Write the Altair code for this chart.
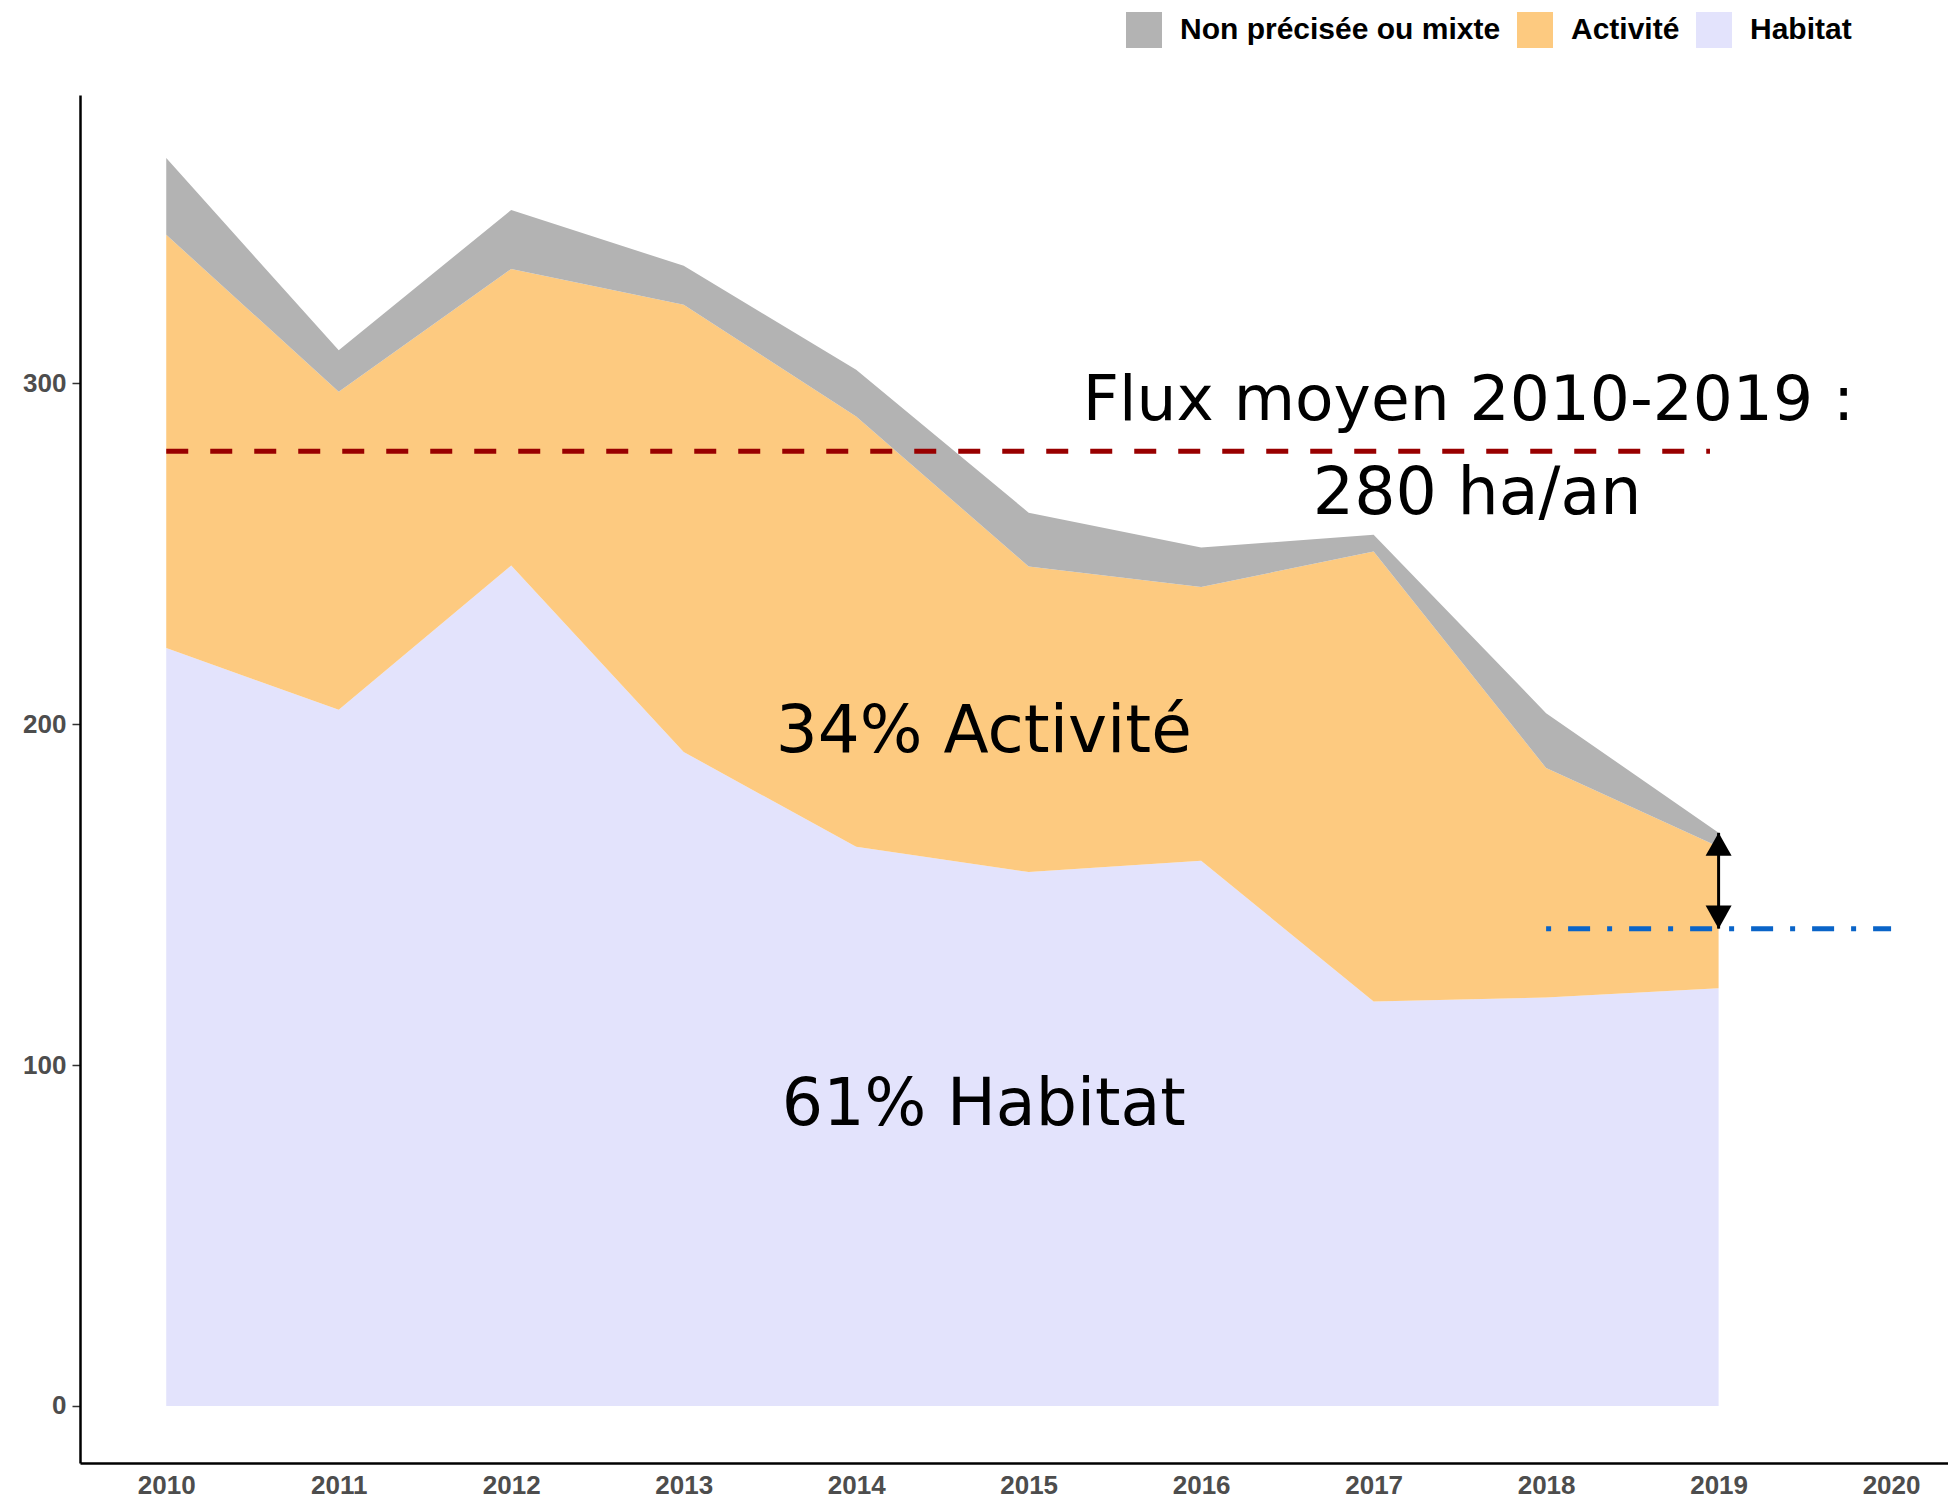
import altair as alt
import pandas as pd

# ---- data ----
years = [2010, 2011, 2012, 2013, 2014, 2015, 2016, 2017, 2018, 2019]
habitat = [222.3, 204.2, 246.5, 191.8, 164.0, 156.6, 159.9, 118.6, 119.8, 122.5]
activite = [121.2, 93.3, 87.0, 131.2, 126.2, 89.6, 80.3, 132.0, 67.3, 41.5]
non_precisee = [22.5, 12.1, 17.3, 11.4, 13.7, 15.8, 11.6, 4.9, 16.1, 4.1]

categories = ["Non précisée ou mixte", "Activité", "Habitat"]
colors = ["#B3B3B3", "#FDCA80", "#E3E3FC"]

x_ticks = list(range(2010, 2021))
y_ticks = [0, 100, 200, 300]

mean_flux = 280
half_flux = 140
mean_span = [2010, 2018.95]
half_span = [2018, 2020]
arrow_year = 2019
arrow_top = 168.1

labels_text = ["Flux moyen 2010-2019 :", "280 ha/an", "34% Activité", "61% Habitat"]
labels_x = [2017.55, 2017.6, 2014.74, 2014.74]
labels_y = [289.2, 261.6, 191.8, 82.4]
labels_size = [63, 65, 66, 65]

# ---- tables ----
rows = []
for i, yr in enumerate(years):
    rows.append({"annee": yr, "cat": "Habitat", "val": habitat[i], "ord": 0})
    rows.append({"annee": yr, "cat": "Activité", "val": activite[i], "ord": 1})
    rows.append({"annee": yr, "cat": "Non précisée ou mixte", "val": non_precisee[i], "ord": 2})
df = pd.DataFrame(rows)

xs = alt.Scale(domain=[2009.5, 2020.33], nice=False, zero=False)
ys = alt.Scale(domain=[-16.73, 384.5], nice=False, zero=False)

area = alt.Chart(df).mark_area(opacity=1, interpolate="linear").encode(
    x=alt.X("annee:Q", scale=xs,
            axis=alt.Axis(values=x_ticks, format="d", title=None, grid=False,
                          ticks=False, labelPadding=9, labelFont="Liberation Sans",
                          labelFontSize=26, labelFontWeight="bold", labelColor="#4D4D4D",
                          domainColor="#000000", domainWidth=2.5, labelFlush=False)),
    y=alt.Y("val:Q", stack="zero", scale=ys,
            axis=alt.Axis(values=y_ticks, title=None, grid=False, tickSize=8,
                          tickColor="#333333", tickWidth=1.5, labelPadding=6,
                          labelFont="Liberation Sans", labelFontSize=26,
                          labelFontWeight="bold", labelColor="#4D4D4D",
                          domainColor="#000000", domainWidth=2.5)),
    color=alt.Color("cat:N", scale=alt.Scale(domain=categories, range=colors),
                    legend=alt.Legend(title=None, orient="none", legendX=1046, legendY=-83,
                                      direction="horizontal", symbolType="square",
                                      symbolSize=1296, symbolStrokeWidth=0, symbolOpacity=1,
                                      labelFont="Liberation Sans", labelFontSize=30,
                                      labelFontWeight="bold", labelColor="#000000",
                                      labelOffset=18, columnPadding=16, padding=0,
                                      labelLimit=0)),
    order=alt.Order("ord:Q", sort="ascending"),
)

mean_df = pd.DataFrame({"x": [mean_span[0]], "x2": [mean_span[1]], "y": [mean_flux]})
mean_rule = alt.Chart(mean_df).mark_rule(color="#990000", strokeWidth=5, strokeDash=[22, 22]).encode(
    x=alt.X("x:Q", scale=xs), x2="x2:Q", y=alt.Y("y:Q", scale=ys))

half_df = pd.DataFrame({"x": [half_span[0]], "x2": [half_span[1]], "y": [half_flux]})
half_rule = alt.Chart(half_df).mark_rule(color="#0A64C8", strokeWidth=5, strokeDash=[5, 17, 22, 17]).encode(
    x=alt.X("x:Q", scale=xs), x2="x2:Q", y=alt.Y("y:Q", scale=ys))

arrow_df = pd.DataFrame({"x": [arrow_year], "y": [half_flux], "y2": [arrow_top]})
arrow_line = alt.Chart(arrow_df).mark_rule(color="#000000", strokeWidth=3).encode(
    x=alt.X("x:Q", scale=xs), y=alt.Y("y:Q", scale=ys), y2="y2:Q")

up_df = pd.DataFrame({"x": [arrow_year], "y": [arrow_top]})
up_head = alt.Chart(up_df).mark_point(filled=True, shape="M0,0L1,1.77L-1,1.77Z", size=676,
                                      color="#000000", opacity=1, strokeWidth=0).encode(
    x=alt.X("x:Q", scale=xs), y=alt.Y("y:Q", scale=ys))

down_df = pd.DataFrame({"x": [arrow_year], "y": [half_flux]})
down_head = alt.Chart(down_df).mark_point(filled=True, shape="M0,0L1,-1.77L-1,-1.77Z", size=676,
                                          color="#000000", opacity=1, strokeWidth=0).encode(
    x=alt.X("x:Q", scale=xs), y=alt.Y("y:Q", scale=ys))

txt_df = pd.DataFrame({"t": labels_text, "x": labels_x, "y": labels_y, "s": labels_size})
texts = alt.Chart(txt_df).mark_text(font="DejaVu Sans", color="#000000",
                                    align="center", baseline="alphabetic").encode(
    x=alt.X("x:Q", scale=xs), y=alt.Y("y:Q", scale=ys), text="t:N",
    size=alt.Size("s:Q", scale=None, legend=None))

chart = alt.layer(area, mean_rule, half_rule, arrow_line, up_head, down_head, texts).properties(
    width=1868, height=1368,
    padding={"left": 72, "top": 87, "right": 0, "bottom": 35},
    autosize=alt.AutoSizeParams(type="none"),
    background="#FFFFFF",
).configure_view(stroke=None)

chart.save("out.html", embed_options={"renderer": "svg", "actions": False})
